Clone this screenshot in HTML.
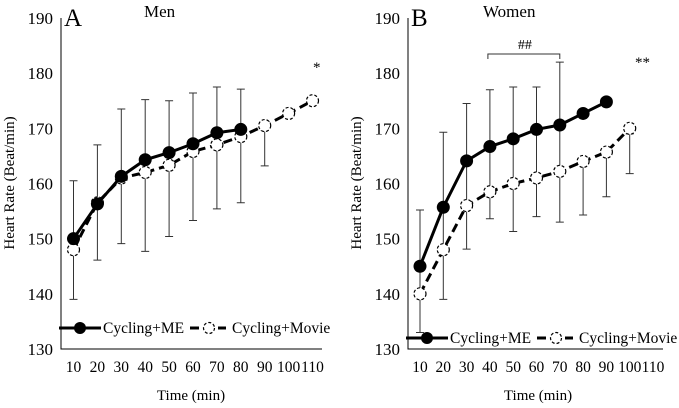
<!DOCTYPE html>
<html><head><meta charset="utf-8"><style>
html,body{margin:0;padding:0;background:#fff;}
svg{display:block;font-family:"Liberation Serif",serif;}
</style></head><body>
<svg id="c" width="679" height="408" viewBox="0 0 679 408"></svg>
<script>
const xCats=[10,20,30,40,50,60,70,80,90,100,110];
const yTicks=[130,140,150,160,170,180,190];
const aMeVals=[150,156.3,161.3,164.3,165.6,167.2,169.2,169.8];
const aMovVals=[148,156.5,161,162,163.3,165.8,167,168.5,170.5,172.7,175];
const aErrTop=[160.5,167,173.5,175.2,175,176.4,177.5,177.1,169.6];
const aErrBot=[139,146.1,149.1,147.7,150.4,153.3,155.4,156.5,163.2];
const bMeVals=[145,155.7,164.1,166.7,168.1,169.8,170.6,172.7,174.8];
const bMovVals=[140,148,156,158.5,160,161,162.2,164,165.7,170];
const bErrTop=[155.2,169.3,174.5,177,177.5,177.5,182,163.5,165,169];
const bErrBot=[133,139,148.1,153.6,151.3,154,153,154.3,157.6,161.8];
const NS="http://www.w3.org/2000/svg";
const svg=document.getElementById('c');
function el(t,a,p){const e=document.createElementNS(NS,t);for(const k in a)e.setAttribute(k,a[k]);(p||svg).appendChild(e);return e;}
function txt(s,a,p){const e=el('text',a,p);e.textContent=s;return e;}
function panel(o){
 const g=el('g',{});
 
 
 const yS=v=>349-(v-130)*(331/60);
 const xS=c=>o.x10+(c-10)/10*o.dx;
 const ax=el('path',{d:`M${o.ax} 18 V349 H${o.axEnd}`,stroke:'#000','stroke-width':1,fill:'none'},g);
 
 
 yTicks.forEach(t=>{const e=txt(t,{x:o.ax-8,y:yS(t)+6,'text-anchor':'end','font-size':17},g);
  
  });
 xCats.forEach(c=>{const e=txt(c,{x:xS(c),y:372,'text-anchor':'middle','font-size':15.5},g);
  
  });
 const yl=txt('Heart Rate (Beat/min)',{transform:`translate(${o.ax-47},183) rotate(-90)`,'text-anchor':'middle','font-size':15},g);
 
 
 const xl=txt('Time (min)',{x:o.ax+130,y:400,'text-anchor':'middle','font-size':15},g);
 
 
 const pl=txt(o.letter,{x:o.ax+3,y:26,'font-size':25},g);
 
 
 const ti=txt(o.title,{x:o.ax+o.titleDx,y:17,'font-size':17},g);
 
 
 o.errTop.forEach((t,i)=>{const x=xS(xCats[i]);const b=o.errBot[i];
  const e=el('path',{d:`M${x} ${yS(t)} V${yS(b)} M${x-4} ${yS(t)} H${x+4} M${x-4} ${yS(b)} H${x+4}`,stroke:'#333','stroke-width':1,fill:'none'},g);
  
  });
 const mp=el('polyline',{points:o.mov.map((v,i)=>xS(xCats[i])+','+yS(v)).join(' '),stroke:'#000','stroke-width':3,'stroke-dasharray':'9,5',fill:'none'},g);
 
 
 o.mov.forEach((v,i)=>{const c=el('circle',{cx:xS(xCats[i]),cy:yS(v),r:6,fill:'#fff',stroke:'#000','stroke-width':1.2,'stroke-dasharray':'3,2'},g);
  
  });
 const lp=el('polyline',{points:o.me.map((v,i)=>xS(xCats[i])+','+yS(v)).join(' '),stroke:'#000','stroke-width':3,fill:'none'},g);
 
 
 o.me.forEach((v,i)=>{const c=el('circle',{cx:xS(xCats[i]),cy:yS(v),r:6.5,fill:'#000'},g);
  
  });
 const lg=el('g',{},g);
 
 
 const ly=o.legY;
 el('line',{x1:o.ax-2,y1:ly,x2:o.ax+40,y2:ly,stroke:'#000','stroke-width':3},lg);
 el('circle',{cx:o.ax+19,cy:ly,r:6,fill:'#000'},lg);
 txt('Cycling+ME',{x:o.ax+42,y:ly+5,'font-size':15.5},lg);
 el('line',{x1:o.ax+129,y1:ly,x2:o.ax+165,y2:ly,stroke:'#000','stroke-width':3,'stroke-dasharray':'9,5'},lg);
 el('circle',{cx:o.ax+148,cy:ly,r:5.5,fill:'#fff',stroke:'#000','stroke-width':1.2,'stroke-dasharray':'3,2'},lg);
 txt('Cycling+Movie',{x:o.ax+171,y:ly+5,'font-size':15.5},lg);
 return {g,xS,yS};
}
const A=panel({name:'panel-men',x10:73.5,dx:23.9,ax:61,axEnd:322,letter:'A',title:'Men',titleDx:83,me:aMeVals,mov:aMovVals,errTop:aErrTop,errBot:aErrBot,legY:328});
const s1=txt('*',{x:313,y:72,'font-size':15},A.g);


const B=panel({name:'panel-women',x10:420,dx:23.3,ax:408,axEnd:663,letter:'B',title:'Women',titleDx:75,me:bMeVals,mov:bMovVals,errTop:bErrTop,errBot:bErrBot,legY:338});
const s2=txt('**',{x:635,y:67,'font-size':15},B.g);


const br=el('path',{d:`M${B.xS(40)-2} 59 V54 H${B.xS(70)} V59`,stroke:'#333','stroke-width':1,fill:'none'},B.g);


const hh=txt('##',{x:(B.xS(40)+B.xS(70))/2,y:49,'text-anchor':'middle','font-size':14},B.g);


</script>
</body></html>
